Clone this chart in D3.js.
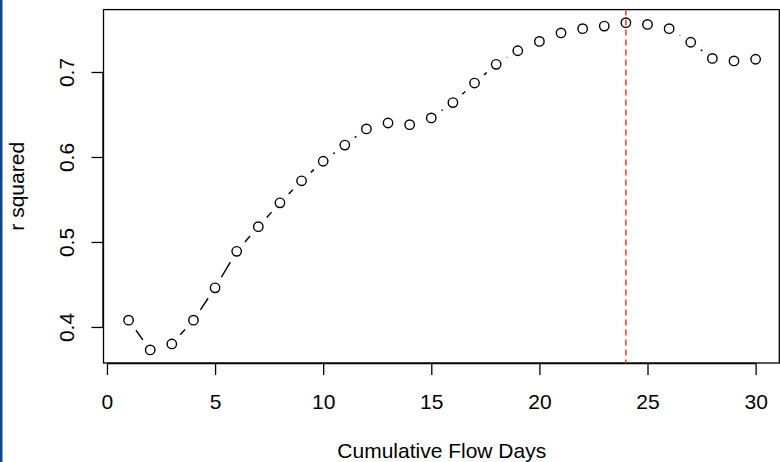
<!DOCTYPE html>
<html>
<head>
<meta charset="utf-8">
<script src="https://cdn.jsdelivr.net/npm/d3@7"></script>
<style>
  body { margin: 0; background: #fff; }
  svg text { font-family: "Liberation Sans", Arial, sans-serif; fill: #000; }
</style>
</head>
<body>
<div id="chart"></div>
<script>
// cumulative flow days and r squared
const days = [1,2,3,4,5,6,7,8,9,10,11,12,13,14,15,16,17,18,19,20,21,22,23,24,25,26,27,28,29,30];
const rSquared = [0.408,0.373,0.380,0.408,0.446,0.489,0.518,0.546,0.572,0.595,
                  0.614,0.633,0.640,0.638,0.646,0.664,0.687,0.709,0.725,0.736,
                  0.746,0.751,0.754,0.758,0.756,0.751,0.735,0.716,0.713,0.715];
const xTicks = [0,5,10,15,20,25,30];
const yTicks = [0.4,0.5,0.6,0.7];
const bestDay = 24;

const W = 780, H = 462;
const margin = { top: 9.6, right: 0, bottom: 99, left: 103.5 };
const fontSize = '21px';

const svg = d3.select('#chart').append('svg')
  .attr('width', W)
  .attr('height', H);

// blue strip on the left edge
svg.append('rect')
  .attr('x', 0).attr('y', 0)
  .attr('width', 2.5).attr('height', H)
  .attr('fill', '#0b4596');

// R style 4% padding on both axes
const xMin = d3.min(days), xMax = d3.max(days);
const yMin = d3.min(rSquared), yMax = d3.max(rSquared);
const xPad = (xMax - xMin) * 0.04, yPad = (yMax - yMin) * 0.04;

const x = d3.scaleLinear()
  .domain([xMin - xPad, xMax + xPad])
  .range([margin.left, W + 0.7]);
const y = d3.scaleLinear()
  .domain([yMin - yPad, yMax + yPad])
  .range([363, margin.top]);

// x axis
const xAxis = svg.append('g')
  .attr('transform', `translate(0, ${y.range()[0]})`)
  .call(d3.axisBottom(x).tickValues(xTicks).tickSize(12).tickPadding(19).tickSizeOuter(0));
xAxis.select('.domain')
  .attr('d', `M${x(0)},0.5H${x(30)}`);
xAxis.selectAll('text').style('font-size', fontSize);

// y axis, labels rotated like base R
const yAxis = svg.append('g')
  .attr('transform', `translate(${margin.left}, 0)`)
  .call(d3.axisLeft(y).tickValues(yTicks).tickFormat(d3.format('.1f')).tickSize(12).tickSizeOuter(0));
yAxis.select('.domain')
  .attr('d', `M-0.5,${y(0.4)}V${y(0.7)}`);
yAxis.selectAll('text')
  .style('font-size', fontSize)
  .attr('x', null)
  .attr('text-anchor', 'middle')
  .attr('transform', 'translate(-37,0) rotate(-90)')
  .attr('y', 0)
  .attr('dy', '0.36em');
svg.selectAll('.tick line').attr('stroke', '#000').attr('stroke-width', 1.3);
svg.selectAll('.domain').attr('stroke', '#000').attr('stroke-width', 1.3);

// plot box
svg.append('rect')
  .attr('x', x.range()[0]).attr('y', y.range()[1])
  .attr('width', W - 0.7 - x.range()[0])
  .attr('height', y.range()[0] - y.range()[1])
  .attr('fill', 'none')
  .attr('stroke', '#000')
  .attr('stroke-width', 1.3);

// vertical marker
svg.append('line')
  .attr('x1', x(bestDay)).attr('x2', x(bestDay))
  .attr('y1', y.range()[1]).attr('y2', y.range()[0])
  .attr('stroke', '#ff4040')
  .attr('stroke-width', 1.6)
  .attr('stroke-dasharray', '6,4');

// type = "b": segments with a gap round every point
const pts = days.map((d, i) => [x(d), y(rSquared[i])]);
const gap = 12.5;
const segs = [];
for (let i = 0; i < pts.length - 1; i++) {
  const [x0, y0] = pts[i], [x1, y1] = pts[i + 1];
  const len = Math.hypot(x1 - x0, y1 - y0);
  if (len <= 2 * gap) continue;
  const ux = (x1 - x0) / len, uy = (y1 - y0) / len;
  segs.push([x0 + ux * gap, y0 + uy * gap, x1 - ux * gap, y1 - uy * gap]);
}
svg.append('g').selectAll('line')
  .data(segs)
  .enter()
  .append('line')
  .attr('x1', d => d[0]).attr('y1', d => d[1])
  .attr('x2', d => d[2]).attr('y2', d => d[3])
  .attr('stroke', '#000')
  .attr('stroke-width', 1.4);

svg.append('g').selectAll('circle')
  .data(days)
  .enter()
  .append('circle')
  .attr('cx', d => x(d))
  .attr('cy', (d, i) => y(rSquared[i]))
  .attr('r', 4.7)
  .attr('fill', 'none')
  .attr('stroke', '#000')
  .attr('stroke-width', 1.4);

// axis titles
svg.append('text')
  .attr('x', (x.range()[0] + W) / 2)
  .attr('y', 458)
  .attr('text-anchor', 'middle')
  .style('font-size', fontSize)
  .text('Cumulative Flow Days');

svg.append('text')
  .attr('transform', `translate(24, ${(y.range()[0] + y.range()[1]) / 2}) rotate(-90)`)
  .attr('text-anchor', 'middle')
  .style('font-size', fontSize)
  .text('r squared');
</script>
</body>
</html>
